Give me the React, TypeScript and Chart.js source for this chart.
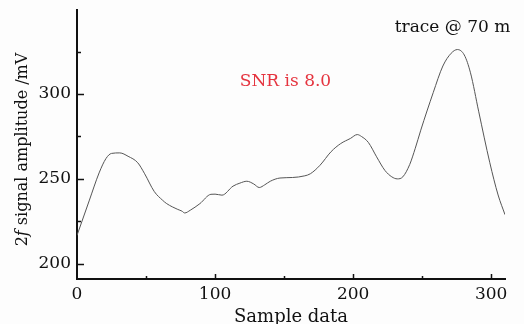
import React, { useEffect, useRef } from "react";
import { Chart, registerables } from "chart.js";

Chart.register(...registerables);

const sampleIndex = [0, 9, 16, 21, 25, 31, 37, 44, 49, 56, 62, 65, 73, 76, 78, 82, 89, 97, 100, 105, 113, 118, 123, 128, 132, 136, 140, 147, 156, 165, 169, 176, 184, 191, 198, 203, 206, 211, 217, 223, 228, 232, 236, 241, 245, 249, 258, 265, 271, 275.5, 280.5, 285, 291, 299, 305, 310];
const amplitude = [216.7, 237.5, 253.5, 262, 265, 265.3, 263.3, 259.5, 253, 242.5, 237.4, 235.4, 232, 231, 229.9, 231.5, 235.4, 240.9, 241, 240.4, 245.7, 247.5, 248.6, 247, 244.9, 246.5, 248.6, 250.5, 250.8, 251.8, 253, 258, 266, 270.8, 273.8, 276.1, 275, 271.5, 263, 255, 251.2, 250, 251.2, 258.5, 268, 278.7, 300.8, 316.5, 324, 326.2, 323, 312.5, 289.5, 259.5, 240.5, 228.9];

const xTickStep = 50;
const yTickStep = 25;
const xLabelEvery = 100;
const yLabelEvery = 50;
const yTitleParts = ["2", "f", " signal amplitude /mV"];
const xTitle = "Sample data";
const traceLabel = "trace @ 70 m";
const snrLabel = "SNR is 8.0";

const SERIF = "'DejaVu Serif', serif";

const decorPlugin = {
  id: "decor",
  afterDraw(chart: any) {
    const { ctx, chartArea } = chart;
    const xs = chart.scales.x;
    const ys = chart.scales.y;
    ctx.save();
    ctx.strokeStyle = "#111";
    ctx.lineWidth = 1.5;
    xs.ticks.forEach((t: any) => {
      if (t.value <= 0) return;
      const px = Math.round(xs.getPixelForValue(t.value)) + 0.5;
      const len = t.value % xLabelEvery === 0 ? 5 : 3;
      ctx.beginPath();
      ctx.moveTo(px, chartArea.bottom);
      ctx.lineTo(px, chartArea.bottom - len);
      ctx.stroke();
    });
    ys.ticks.forEach((t: any) => {
      const py = Math.round(ys.getPixelForValue(t.value)) + 0.5;
      const len = t.value % yLabelEvery === 0 ? 7 : 4;
      ctx.beginPath();
      ctx.moveTo(chartArea.left, py);
      ctx.lineTo(chartArea.left + len, py);
      ctx.stroke();
    });
    ctx.translate(23, 149.5);
    ctx.rotate(-Math.PI / 2);
    ctx.fillStyle = "#111";
    ctx.textBaseline = "middle";
    const fonts = [`16px ${SERIF}`, `italic 16px ${SERIF}`, `16px ${SERIF}`];
    let total = 0;
    const widths = yTitleParts.map((p, i) => {
      ctx.font = fonts[i];
      const w = ctx.measureText(p).width;
      total += w;
      return w;
    });
    let x = -total / 2;
    yTitleParts.forEach((p, i) => {
      ctx.font = fonts[i];
      ctx.textAlign = "left";
      ctx.fillText(p, x, 0);
      x += widths[i];
    });
    ctx.restore();

    ctx.save();
    ctx.textAlign = "center";
    ctx.textBaseline = "middle";
    ctx.font = `17px ${SERIF}`;
    ctx.fillStyle = "#111";
    ctx.fillText(traceLabel, 452.5, 28);
    ctx.fillStyle = "#e5343f";
    ctx.fillText(snrLabel, 285.5, 82);
    ctx.restore();
  },
};

export default function App() {
  const ref = useRef<HTMLCanvasElement>(null);
  useEffect(() => {
    document.body.style.margin = "0";
    const chart = new Chart(ref.current!, {
      type: "line",
      data: {
        datasets: [
          {
            data: sampleIndex.map((x, i) => ({ x, y: amplitude[i] })),
            borderColor: "#555",
            borderWidth: 1,
            pointRadius: 0,
            tension: 0.4,
            cubicInterpolationMode: "monotone",
            fill: false,
          },
        ],
      },
      options: {
        animation: false,
        responsive: false,
        events: [],
        layout: { padding: { left: 0, top: 10, right: 19, bottom: 0 } },
        plugins: { legend: { display: false }, tooltip: { enabled: false } },
        scales: {
          x: {
            type: "linear",
            min: 0,
            max: 310,
            grid: { display: false, drawTicks: false },
            border: { display: true, color: "#111", width: 2 },
            ticks: {
              stepSize: xTickStep,
              includeBounds: false,
              autoSkip: false,
              maxRotation: 0,
              padding: 5,
              color: "#111",
              font: { family: SERIF, size: 17 },
              callback: (v: any) => (v % xLabelEvery === 0 ? String(v) : ""),
            },
            title: {
              display: true,
              text: xTitle,
              color: "#111",
              font: { family: SERIF, size: 18 },
              padding: { top: 0, bottom: -4 },
            },
            afterFit: (s: any) => {
              s.height = 45;
              s.paddingLeft = 0;
              s.paddingRight = 0;
            },
          },
          y: {
            type: "linear",
            min: 191,
            max: 349.5,
            grid: { display: false, drawTicks: false },
            border: { display: true, color: "#111", width: 2 },
            ticks: {
              stepSize: yTickStep,
              includeBounds: false,
              autoSkip: false,
              padding: 6,
              color: "#111",
              font: { family: SERIF, size: 17 },
              callback: (v: any) => (v % yLabelEvery === 0 ? String(v) : ""),
            },
            afterFit: (s: any) => {
              s.width = 77;
              s.paddingTop = 0;
              s.paddingBottom = 0;
            },
          },
        },
      },
      plugins: [decorPlugin],
    } as any);
    return () => chart.destroy();
  }, []);
  return (
    <div style={{ position: "fixed", left: 0, top: 0, width: 524, height: 324, background: "#fdfdfd" }}>
      <canvas ref={ref} width={524} height={324} />
    </div>
  );
}
